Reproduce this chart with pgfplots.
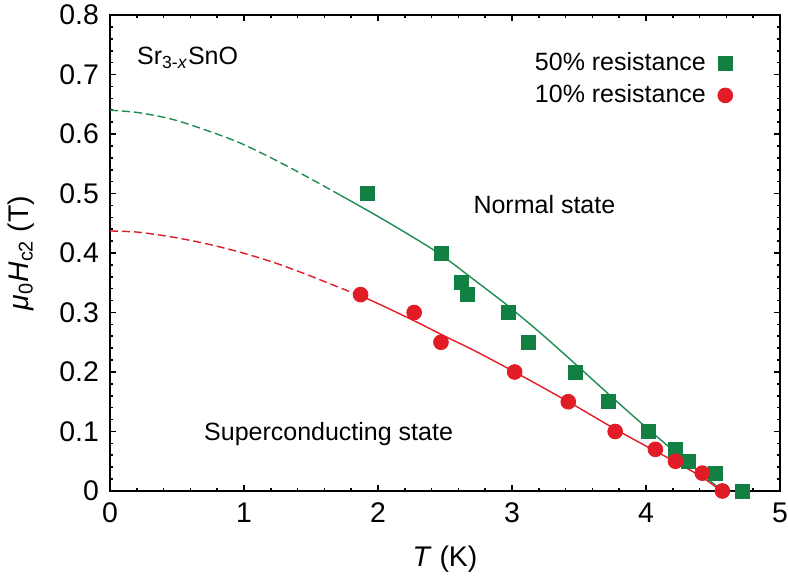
\documentclass[border=0pt]{standalone}
\usepackage{pgfplots}
\pgfplotsset{compat=1.18}
\usepackage{fontspec}
\setmainfont{Liberation Sans}
\definecolor{sqgreen}{RGB}{18,128,66}
\definecolor{lngreen}{RGB}{30,140,80}
\definecolor{cred}{RGB}{226,28,38}
\newcommand{\fs}{\fontsize{12.5}{15}\selectfont}
\newcommand{\ft}{\fontsize{14.2}{17}\selectfont}
\begin{document}
\begin{tikzpicture}
\useasboundingbox (-55pt,-42.5pt) rectangle (339pt,245.5pt);
\begin{axis}[
  at={(0,0)}, anchor=south west,
  scale only axis, width=335pt, height=238pt,
  xmin=0, xmax=5, ymin=0, ymax=0.8,
  xtick={0,1,2,3,4,5},
  ytick={0,0.1,0.2,0.3,0.4,0.5,0.6,0.7,0.8},
  minor x tick num=4, minor y tick num=4,
  tick align=inside,
  major tick length=3pt, minor tick length=1.7pt,
  axis line style={line width=1pt},
  tick style={black, line width=0.8pt},
  font=\fs,
  tick label style={font=\ft},
  /pgf/number format/assume math mode=true,
  xticklabel style={yshift=-2.5pt},
  yticklabel style={xshift=-2pt},
  xlabel={\textit{T} (K)},
  ylabel={\textit{μ}\textsubscript{0}\textit{H}\textsubscript{c2} (T)},
  xlabel style={font=\ft, at={(axis description cs:0.5,-0.143)}, anchor=center},
  ylabel style={font=\ft, at={(axis description cs:-0.133,0.5)}, anchor=center},
  clip=false,
  legend plot pos=right,
  legend cell align=right,
  legend image code/.code={\draw[#1] plot coordinates {(0pt,0pt)};},
  legend style={at={(axis description cs:0.93,0.93)}, anchor=north east,
    draw=none, fill=none, inner sep=0pt, row sep=1.5pt, font=\fs,
    /tikz/every odd column/.append style={column sep=4pt}},
]
% fitted curves
\addplot[forget plot, lngreen, line width=0.7pt, dash pattern=on 4pt off 2pt, smooth, tension=0.5] coordinates {
 (0,0.640) (0.21,0.636) (0.46,0.625) (0.71,0.607) (0.96,0.586) (1.21,0.559) (1.455,0.530) (1.72,0.497)};
\addplot[forget plot, lngreen, line width=0.7pt, smooth, tension=0.5] coordinates {
 (1.72,0.497) (1.965,0.466) (2.214,0.433) (2.463,0.398) (2.711,0.356) (2.96,0.313) (3.21,0.266) (3.47,0.214) (3.72,0.163) (3.96,0.115) (4.23,0.063) (4.40,0.032) (4.57,0.0)};
\addplot[forget plot, cred, line width=0.7pt, dash pattern=on 4pt off 2pt, smooth, tension=0.5] coordinates {
 (0,0.437) (0.21,0.435) (0.46,0.427) (0.71,0.416) (0.96,0.402) (1.21,0.385) (1.455,0.365) (1.70,0.343) (1.87,0.328)};
\addplot[forget plot, cred, line width=0.7pt, smooth, tension=0.5] coordinates {
 (1.87,0.328) (2.0,0.315) (2.28,0.285) (2.5,0.260) (2.71,0.237) (3.02,0.200) (3.42,0.150) (3.77,0.104) (4.07,0.067) (4.22,0.049) (4.42,0.023) (4.56,0.0)};
% data
\addplot[only marks, mark=square*, mark size=3.5pt, color=sqgreen] coordinates {
 (1.92,0.50) (2.47,0.40) (2.62,0.35) (2.67,0.33) (2.97,0.30) (3.12,0.25) (3.47,0.20) (3.72,0.15) (4.02,0.10) (4.22,0.07) (4.32,0.05) (4.52,0.03) (4.72,0.0)};
\addlegendentry{50\% resistance}
\addplot[only marks, mark=*, mark size=3.7pt, color=cred] coordinates {
 (1.87,0.33) (2.27,0.30) (2.47,0.25) (3.02,0.20) (3.42,0.15) (3.77,0.10) (4.07,0.07) (4.22,0.05) (4.42,0.03) (4.57,0.0)};
\addlegendentry{10\% resistance}
\node[anchor=base west, inner sep=0pt] at (axis cs:0.2,0.716) {Sr\textsubscript{3-\textit{x}}SnO};
\node[anchor=base west, inner sep=0pt] at (axis cs:2.71,0.466) {Normal state};
\node[anchor=base west, inner sep=0pt] at (axis cs:0.70,0.0846) {Superconducting state};
\end{axis}
\end{tikzpicture}
\end{document}
